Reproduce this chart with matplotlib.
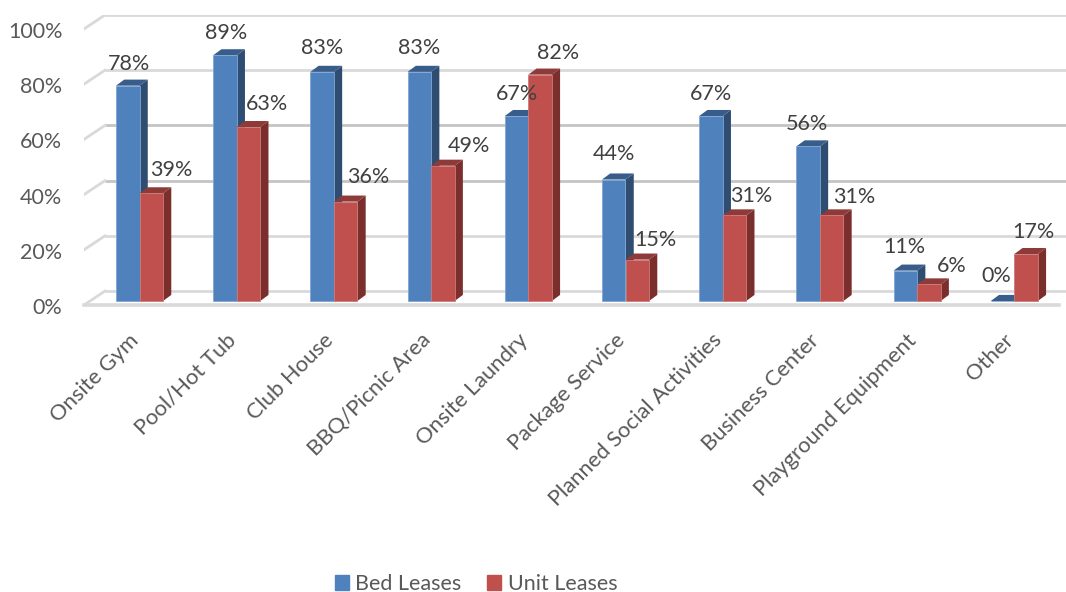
import numpy as np
import matplotlib
matplotlib.use("Agg")
import matplotlib.pyplot as plt
from matplotlib.patches import Patch, Polygon
from matplotlib.transforms import ScaledTranslation

# values
categories = ["Onsite Gym", "Pool/Hot Tub", "Club House", "BBQ/Picnic Area", "Onsite Laundry",
              "Package Service", "Planned Social Activities", "Business Center",
              "Playground Equipment", "Other"]
bed_leases = [78, 89, 83, 83, 67, 44, 67, 56, 11, 0]
unit_leases = [39, 63, 36, 49, 82, 15, 31, 31, 6, 17]
y_ticks = [0, 20, 40, 60, 80, 100]

# fake 3d, sizes in data units
BAR_W = 0.242
DEPTH_X = 0.085
DEPTH_Y = 2.2
FRONT = -1.45
BACK = 3.6
WALL_X = -0.355

W, H = 1066, 592
FONT = ["Lato", "DejaVu Sans"]
plt.rcParams["font.family"] = FONT

fig = plt.figure(figsize=(W / 100, H / 100), dpi=100)
ax = fig.add_axes([84 / W, 1 - 305 / H, (W - 84) / W, 290 / H])
x0 = (84 - 139.5) / 97.2
ax.set_xlim(x0, (W - 139.5) / 97.2)
ax.set_ylim(FRONT, BACK + 100)
for s in ax.spines.values():
    s.set_visible(False)
ax.patch.set_alpha(0)


def draw_bar(left, val, front_col, edge_col, top_col, side_col, z):
    right = left + BAR_W
    ax.bar(left, val, BAR_W, align="edge", color=front_col, edgecolor=edge_col, linewidth=0.6, zorder=z + 0.2)
    if val > 0:
        ax.add_patch(Polygon([(right, 0), (right + DEPTH_X, DEPTH_Y), (right + DEPTH_X, val + DEPTH_Y), (right, val)],
                             color=side_col, lw=0, zorder=z))
    ax.add_patch(Polygon([(left, val), (left + DEPTH_X, val + DEPTH_Y), (right + DEPTH_X, val + DEPTH_Y), (right, val)],
                         color=top_col, lw=0, zorder=z + 0.1))


# walls and grid
for t in y_ticks:
    col = "#C4C4C4" if t in (40, 60) else "#D9D9D9"
    ax.plot([WALL_X, W], [t + BACK, t + BACK], color=col, lw=2.0, zorder=1, solid_capstyle="butt", scalex=False)
    ax.plot([x0, WALL_X], [t + FRONT, t + BACK], color="#D9D9D9", lw=2.0, zorder=1, scalex=False)
ax.plot([x0, 9.46], [FRONT, FRONT], color="#D9D9D9", lw=2.6, zorder=1, clip_on=False)

for i, (b, u) in enumerate(zip(bed_leases, unit_leases)):
    draw_bar(i - BAR_W, b, "#4F81BD", "#7FA6D6", "#385D8A", "#2F4D71", 2)
    draw_bar(i, u, "#C0504D", "#CC7A78", "#8E3A38", "#7B2F2D", 3)

# label nudges in pixels, (dx, dy) from the bar's front top
bed_nudge = [(1, 22), (1, 22), (0, 24), (0, 24), (0, 22), (0, 26), (0, 22), (-1, 22), (-1, 24), (-6, 25)]
unit_nudge = [(20, 23), (19, 23), (23, 25), (26, 20), (18, 22), (18, 20), (17, 19), (23, 18), (23, 18), (7, 22)]
for i in range(len(categories)):
    ax.annotate(f"{bed_leases[i]}%", (i - BAR_W / 2, bed_leases[i]), xytext=bed_nudge[i], textcoords=("offset pixels"),
                ha="center", va="center", fontsize=15.5, color="#404040", zorder=6)
    ax.annotate(f"{unit_leases[i]}%", (i + BAR_W / 2, unit_leases[i]), xytext=unit_nudge[i], textcoords=("offset pixels"),
                ha="center", va="center", fontsize=15.5, color="#404040", zorder=6)

ax.set_yticks(y_ticks)
ax.set_yticklabels([f"{t}%" for t in y_ticks], fontsize=15.5, color="#595959")
ax.tick_params(axis="y", length=0, pad=15.5)
for lab in ax.get_yticklabels():
    lab.set_transform(lab.get_transform() + ScaledTranslation(0, -5 / 100, fig.dpi_scale_trans))

ax.set_xticks(range(len(categories)))
ax.set_xticklabels(categories, rotation=45, ha="right", va="top", rotation_mode="anchor", fontsize=15.8, color="#595959")
ax.tick_params(axis="x", length=0, pad=18)
for lab in ax.get_xticklabels():
    lab.set_transform(lab.get_transform() + ScaledTranslation(-11 / 100, 0, fig.dpi_scale_trans))

handles = [Patch(color="#4F81BD", label="Bed Leases"), Patch(color="#C0504D", label="Unit Leases")]
fig.legend(handles=handles, loc="center", bbox_to_anchor=(476 / W, 1 - 584 / H), ncol=2, frameon=False,
           fontsize=15.5, labelcolor="#595959", handlelength=0.65, handleheight=0.65, handletextpad=0.3,
           columnspacing=1.2, borderpad=0, borderaxespad=0)

fig.savefig("out.png", dpi=100)
